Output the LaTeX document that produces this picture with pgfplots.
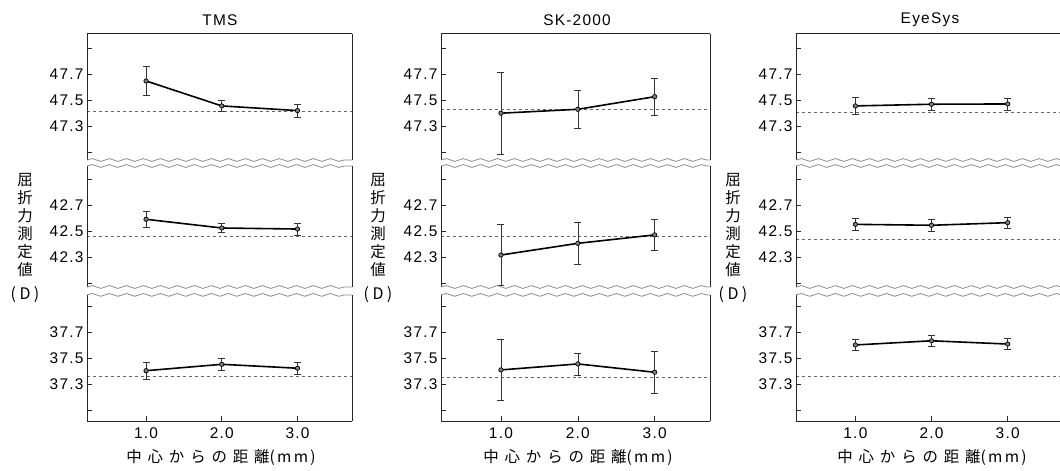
\documentclass[border=0pt]{standalone}
\usepackage{fontspec}
\setmainfont{Liberation Sans}
\newfontfamily\jp{Noto Sans CJK JP}
\newfontfamily\jpwide[LetterSpace=38]{Noto Sans CJK JP}
\newfontfamily\jpmm[LetterSpace=15]{Noto Sans CJK JP}
\newfontfamily\numfont[LetterSpace=8]{Liberation Sans}
\usepackage{pgfplots}
\pgfplotsset{compat=1.18}
\usetikzlibrary{decorations.pathmorphing}

\def\rightop{1}
\tikzset{
  frame/.style={black!85, line width=0.9bp},
  rightframe/.style={black!85, line width=0.9bp, draw opacity=\rightop},
  wave/.style={black!45, line width=0.8bp, decorate,
    decoration={snake, amplitude=1.4bp, segment length=17bp}},
}

\pgfplotsset{
  panel/.style={
    overlay,
    scale only axis,
    anchor=south west,
    xmin=0.22, xmax=3.72,
    axis line style={draw=none},
    tick align=inside,
    ytick pos=left,
    xtick pos=bottom,
    major tick length=4.5bp,
    tick style={black!85, line width=0.6bp},
    yticklabel style={font=\numfont\fontsize{15.5}{15.5}\selectfont},
    xticklabel style={font=\numfont\fontsize{15.5}{15.5}\selectfont, yshift=-3bp},
    clip=false,
  },
  toprow/.style={panel, at={(#1bp,311bp)}, height=126.1bp,
    ymin=47.038, ymax=48.008,
    ytick={47.1,47.3,47.5,47.7,47.9}, yticklabels={,47.3,47.5,47.7,},
    xtick=\empty,
    extra description/.code={
      \draw[frame] (0,0) -- (0,1) -- (1,1);
      \draw[rightframe] (1,1) -- (1,0);
      \draw[wave] (0,0) -- (1,0);
    }},
  midrow/.style={panel, at={(#1bp,184bp)}, height=121bp,
    ymin=42.069, ymax=43.0,
    ytick={42.1,42.3,42.5,42.7,42.9}, yticklabels={,42.3,42.5,42.7,},
    xtick=\empty,
    extra description/.code={
      \draw[frame] (0,0) -- (0,1);
      \draw[rightframe] (1,0) -- (1,1);
      \draw[wave] (0,0) -- (1,0);
      \draw[wave] (0,1) -- (1,1);
    }},
  botrow/.style={panel, at={(#1bp,50bp)}, height=126.1bp,
    ymin=37.015, ymax=37.985,
    ytick={37.1,37.3,37.5,37.7,37.9}, yticklabels={,37.3,37.5,37.7,},
    xtick={1,2,3}, xticklabels={1.0,2.0,3.0},
    extra description/.code={
      \draw[frame] (0,1) -- (0,0) -- (1,0);
      \draw[rightframe] (1,0) -- (1,1);
      \draw[wave] (0,1) -- (1,1);
    }},
  eyesys/.style={width=300bp, xmax=4.16},
}

\newcommand{\panelplot}[3]{%
  \addplot[black!60, dashed, line width=0.5bp, forget plot] coordinates {(0.22,#2) (#3,#2)};
  \addplot[black, line width=1.6bp, mark=*, mark size=2.2bp,
    mark options={fill=black!50, line width=0.7bp, solid},
    error bars/.cd, y dir=both, y explicit,
    error bar style={line width=0.6bp, black!80},
    error mark options={rotate=90, mark size=3.5bp, line width=0.6bp, black!80}]
    coordinates {#1};
}

\newcommand{\ylab}[1]{%
  \node[font=\jp\fontsize{15.5}{18}\selectfont, align=center] at (#1bp,246bp) {屈\\折\\力\\測\\定\\値};
  \node[font=\jp\fontsize{16}{18}\selectfont] at (#1bp,176bp) {(\hspace{3.5bp}D\hspace{3.5bp})};
}

\begin{document}
\begin{tikzpicture}
\useasboundingbox (0bp,0bp) rectangle (1060bp,471bp);

% ---------------- TMS ----------------
\begin{axis}[toprow=87, width=265bp]
  \panelplot{(1,47.646) +- (0,0.113) (2,47.454) +- (0,0.042) (3,47.418) +- (0,0.048)}{47.415}{3.72}
\end{axis}
\begin{axis}[midrow=87, width=265bp]
  \panelplot{(1,42.590) +- (0,0.065) (2,42.523) +- (0,0.035) (3,42.515) +- (0,0.045)}{42.46}{3.72}
\end{axis}
\begin{axis}[botrow=87, width=265bp]
  \panelplot{(1,37.402) +- (0,0.065) (2,37.451) +- (0,0.048) (3,37.421) +- (0,0.049)}{37.357}{3.72}
\end{axis}

% ---------------- SK-2000 ----------------
\begin{axis}[toprow=441, width=269bp]
  \panelplot{(1,47.398) +- (0,0.315) (2,47.428) +- (0,0.143) (3,47.525) +- (0,0.140)}{47.43}{3.72}
\end{axis}
\begin{axis}[midrow=441, width=269bp]
  \panelplot{(1,42.315) +- (0,0.235) (2,42.405) +- (0,0.160) (3,42.470) +- (0,0.120)}{42.46}{3.72}
\end{axis}
\begin{axis}[botrow=441, width=269bp]
  \panelplot{(1,37.408) +- (0,0.233) (2,37.454) +- (0,0.085) (3,37.390) +- (0,0.160)}{37.35}{3.72}
\end{axis}

% ---------------- EyeSys ----------------
\def\rightop{0}
\begin{axis}[toprow=796, eyesys]
  \panelplot{(1,47.454) +- (0,0.066) (2,47.467) +- (0,0.049) (3,47.469) +- (0,0.047)}{47.405}{4.16}
\end{axis}
\begin{axis}[midrow=796, eyesys]
  \panelplot{(1,42.551) +- (0,0.049) (2,42.544) +- (0,0.045) (3,42.564) +- (0,0.045)}{42.44}{4.16}
\end{axis}
\begin{axis}[botrow=796, eyesys]
  \panelplot{(1,37.600) +- (0,0.040) (2,37.632) +- (0,0.044) (3,37.607) +- (0,0.042)}{37.357}{4.16}
\end{axis}

% titles
\node[font=\numfont\fontsize{15.5}{15.5}\selectfont] at (220bp,451bp) {TMS};
\node[font=\numfont\fontsize{15.5}{15.5}\selectfont] at (577bp,451bp) {SK-2000};
\node[font=\numfont\fontsize{15.5}{15.5}\selectfont] at (930bp,451bp) {EyeSys};

% y labels
\ylab{25}
\ylab{378}
\ylab{733}

% x labels
\node[font=\fontsize{15.5}{15.5}\selectfont] at (221bp,13bp) {{\jpwide 中心からの距離}{\jpmm (mm)}};
\node[font=\fontsize{15.5}{15.5}\selectfont] at (578bp,13bp) {{\jpwide 中心からの距離}{\jpmm (mm)}};
\node[font=\fontsize{15.5}{15.5}\selectfont] at (932bp,13bp) {{\jpwide 中心からの距離}{\jpmm (mm)}};
\end{tikzpicture}
\end{document}
